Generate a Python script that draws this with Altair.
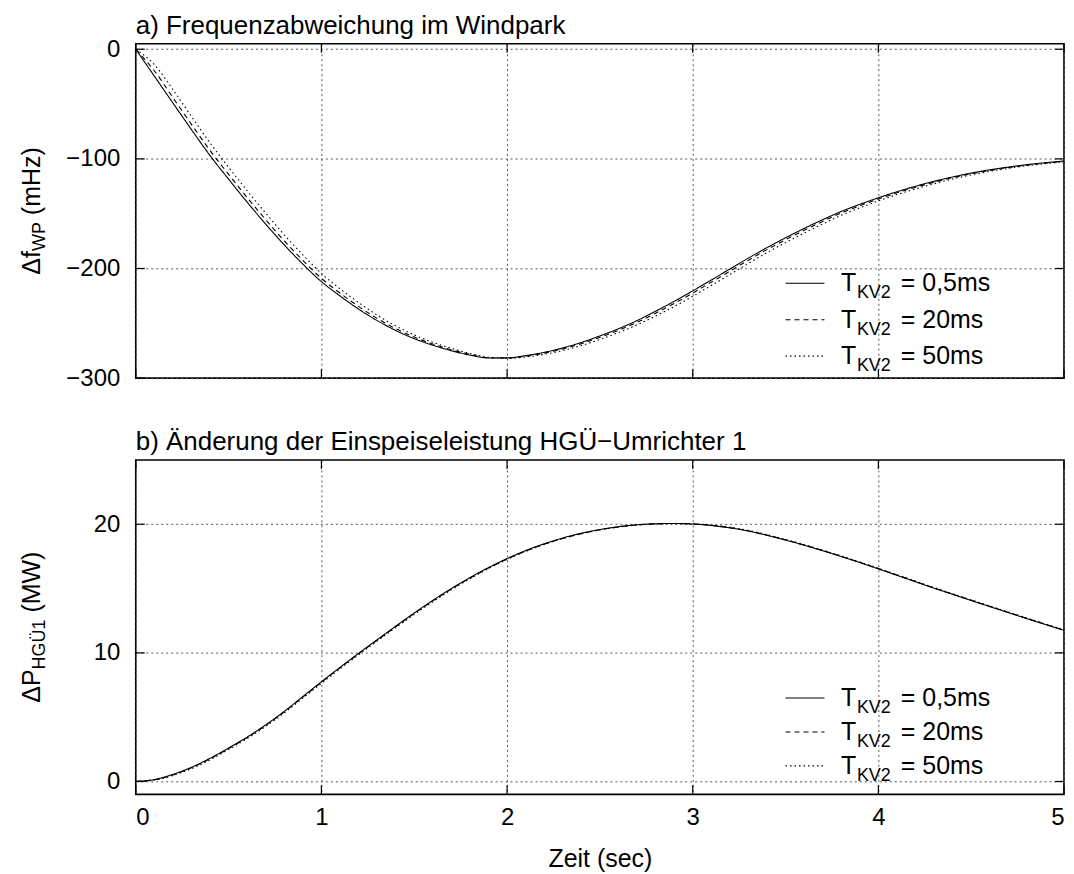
import altair as alt
import pandas as pd

# ---------------- data ----------------
t = [0.0, 0.1, 0.2, 0.3, 0.4, 0.5, 0.6, 0.7, 0.8, 0.9,
     1.0, 1.1, 1.2, 1.3, 1.4, 1.5, 1.6, 1.7, 1.8, 1.9,
     2.0, 2.1, 2.2, 2.3, 2.4, 2.5, 2.6, 2.7, 2.8, 2.9,
     3.0, 3.1, 3.2, 3.3, 3.4, 3.5, 3.6, 3.7, 3.8, 3.9,
     4.0, 4.1, 4.2, 4.3, 4.4, 4.5, 4.6, 4.7, 4.8, 4.9, 5.0]

series = ["0,5ms", "20ms", "50ms"]

f_05 = [0, -24.5, -49, -73.3, -97, -118.5, -139.5, -159.5, -178.5, -196,
        -212, -225, -237, -247.5, -256.5, -264, -270, -275, -279, -281.6,
        -281.5, -279.5, -276.5, -272.5, -267.5, -261.5, -255, -247.5, -239, -230,
        -220.5, -210.5, -200.5, -190.5, -181, -172, -163.5, -155.5, -148, -141.5,
        -135.5, -130, -125, -120.5, -116.5, -113, -110, -107.5, -105.3, -103.5, -102]
f_20 = [0, -19.6, -44.1, -68.5, -92.4, -114.1, -135.3, -155.5, -174.8, -192.6,
        -209, -222.4, -234.6, -245.5, -254.9, -262.6, -268.9, -274.1, -278.4, -281.4,
        -281.7, -280, -277.2, -273.4, -268.6, -262.8, -256.4, -249.1, -240.8, -231.9,
        -222.5, -212.5, -202.5, -192.4, -182.8, -173.8, -165.2, -157.1, -149.4, -142.8,
        -136.7, -131, -125.9, -121.3, -117.2, -113.6, -110.6, -108, -105.7, -103.9, -102.3]
f_50 = [0, -14, -36.8, -61.3, -85.4, -107.6, -129, -149.5, -169.3, -187.5,
        -204.5, -218.5, -231, -242.5, -252.4, -260.6, -267.3, -272.8, -277.5, -281,
        -282, -280.8, -278.3, -274.8, -270.3, -264.7, -258.5, -251.5, -243.4, -234.8,
        -225.4, -215.5, -205.5, -195.4, -185.6, -176.4, -167.7, -159.4, -151.5, -144.7,
        -138.4, -132.6, -127.4, -122.6, -118.4, -114.6, -111.4, -108.7, -106.3, -104.4, -102.8]

p_05 = [0, 0.15, 0.55, 1.1, 1.8, 2.6, 3.45, 4.4, 5.45, 6.6,
        7.75, 8.87, 9.96, 11.02, 12.07, 13.1, 14.08, 15.0, 15.85, 16.63,
        17.33, 17.95, 18.48, 18.93, 19.3, 19.59, 19.81, 19.96, 20.04, 20.06,
        20.02, 19.9, 19.72, 19.47, 19.14, 18.77, 18.37, 17.94, 17.49, 17.02,
        16.53, 16.03, 15.53, 15.03, 14.55, 14.07, 13.6, 13.13, 12.66, 12.2, 11.75]
p_20 = [0, 0.14, 0.51, 1.06, 1.76, 2.56, 3.41, 4.36, 5.41, 6.56,
        7.71, 8.83, 9.92, 10.98, 12.03, 13.06, 14.04, 14.96, 15.81, 16.59,
        17.29, 17.91, 18.45, 18.9, 19.27, 19.57, 19.79, 19.95, 20.03, 20.06,
        20.03, 19.92, 19.74, 19.49, 19.16, 18.79, 18.39, 17.96, 17.51, 17.04,
        16.55, 16.05, 15.55, 15.05, 14.57, 14.09, 13.62, 13.15, 12.68, 12.22, 11.77]
p_50 = [0, 0.1, 0.46, 0.99, 1.68, 2.48, 3.33, 4.28, 5.33, 6.48,
        7.63, 8.75, 9.85, 10.91, 11.96, 12.99, 13.97, 14.9, 15.76, 16.55,
        17.26, 17.89, 18.43, 18.89, 19.26, 19.56, 19.78, 19.94, 20.02, 20.05,
        20.04, 19.94, 19.77, 19.52, 19.19, 18.82, 18.42, 17.99, 17.54, 17.07,
        16.58, 16.08, 15.58, 15.08, 14.6, 14.12, 13.65, 13.18, 12.71, 12.25, 11.8]

x_ticks = [0, 1, 2, 3, 4, 5]
f_ticks = [-300, -200, -100, 0]
p_ticks = [0, 10, 20]

title_a = "a) Frequenzabweichung im Windpark"
title_b = "b) Änderung der Einspeiseleistung HGÜ−Umrichter 1"
x_title = "Zeit (sec)"
ytitle_a = ["Δf", "WP", "(mHz)"]
ytitle_b = ["ΔP", "HGÜ1", "(MW)"]
leg_main = ["T", "T", "T"]
leg_sub = ["KV2", "KV2", "KV2"]
leg_rest = ["= 0,5ms", "= 20ms", "= 50ms"]

# ---------------- styling ----------------
FONT = "Liberation Sans"
W, H = 930, 335
FS = 24
DASHES = [[1, 0], [5, 4], [1.5, 3]]

ARIAL = {"Δ": 668, "f": 278, "W": 944, "P": 667, " ": 278, "(": 333, ")": 333,
         "m": 833, "H": 722, "z": 500, "G": 778, "Ü": 722, "1": 556, "M": 833}


def tw(s, size):
    return sum(ARIAL.get(c, 556) for c in s) * size / 1000.0


def long_df(vals):
    rows = []
    for name, v in zip(series, vals):
        for ti, vi in zip(t, v):
            rows.append({"t": ti, "v": vi, "s": name})
    return pd.DataFrame(rows)


def one(text):
    return pd.DataFrame({"label": [text]})


def panel(vals, ydom, yticks, title, ytitle, show_x, leg_base, leg_step):
    df = long_df(vals)
    xaxis_kw = dict(values=x_ticks, grid=True, ticks=False, domain=False,
                    labels=show_x, labelPadding=11, labelFontSize=FS,
                    labelFont=FONT, labelColor="black",
                    gridColor="#555", gridDash=[2, 3], gridWidth=1)
    if show_x:
        xaxis_kw.update(title=x_title, titleFontSize=FS + 1, titleFont=FONT,
                        titleFontWeight="normal", titleColor="black", titlePadding=17)
    else:
        xaxis_kw.update(title=None)
    X = alt.X("t:Q", scale=alt.Scale(domain=[0, 5], nice=False, zero=False),
              axis=alt.Axis(**xaxis_kw))
    Y = alt.Y("v:Q", scale=alt.Scale(domain=ydom, nice=False, zero=False),
              axis=alt.Axis(values=yticks, grid=True, ticks=False, domain=False,
                            labelPadding=16, labelFontSize=FS, labelFont=FONT,
                            labelColor="black", format="d", title=None,
                            gridColor="#555", gridDash=[2, 3], gridWidth=1))

    lines = alt.Chart(df).mark_line(color="black", strokeWidth=1.1, clip=True,
                                    interpolate="monotone").encode(
        x=X, y=Y,
        strokeDash=alt.StrokeDash("s:N", scale=alt.Scale(domain=series, range=DASHES),
                                  legend=None),
        detail="s:N")

    layers = [lines]
    # inward ticks
    xt = pd.DataFrame({"t": x_ticks})
    yt = pd.DataFrame({"v": yticks})
    layers.append(alt.Chart(xt).mark_rule(color="black", strokeWidth=1.2).encode(
        x=X, y=alt.value(H), y2=alt.value(H - 9)))
    layers.append(alt.Chart(xt).mark_rule(color="black", strokeWidth=1.2).encode(
        x=X, y=alt.value(0), y2=alt.value(9)))
    layers.append(alt.Chart(yt).mark_rule(color="black", strokeWidth=1.2).encode(
        y=Y, x=alt.value(0), x2=alt.value(9)))
    layers.append(alt.Chart(yt).mark_rule(color="black", strokeWidth=1.2).encode(
        y=Y, x=alt.value(W - 9), x2=alt.value(W)))

    # panel title as text
    layers.append(alt.Chart(one(title)).mark_text(
        align="left", baseline="alphabetic", font=FONT, fontSize=26, color="black").encode(
        text="label:N", x=alt.value(0), y=alt.value(-10)))

    # legend
    for i in range(3):
        base = leg_base + i * leg_step
        layers.append(alt.Chart(one(series[i])).mark_rule(
            color="black", strokeWidth=1.1, strokeDash=DASHES[i]).encode(
            x=alt.value(651), x2=alt.value(690), y=alt.value(base - 8)))
        layers.append(alt.Chart(one(leg_main[i])).mark_text(
            align="left", baseline="alphabetic", font=FONT, fontSize=25, color="black").encode(
            text="label:N", x=alt.value(706.5), y=alt.value(base)))
        layers.append(alt.Chart(one(leg_sub[i])).mark_text(
            align="left", baseline="alphabetic", font=FONT, fontSize=18, color="black").encode(
            text="label:N", x=alt.value(722.5), y=alt.value(base + 7)))
        layers.append(alt.Chart(one(leg_rest[i])).mark_text(
            align="left", baseline="alphabetic", font=FONT, fontSize=25, color="black").encode(
            text="label:N", x=alt.value(766.5), y=alt.value(base)))

    # rotated y title with subscript
    big, sub = 25, 18
    gap = tw(" ", big)
    total = tw(ytitle[0], big) + tw(ytitle[1], sub) + gap + tw(ytitle[2], big)
    pos = H / 2 + total / 2
    bx = -96
    for part, size, dx, pre in [(ytitle[0], big, 0, 0), (ytitle[1], sub, 5, 0),
                                (ytitle[2], big, 0, gap)]:
        pos -= pre
        layers.append(alt.Chart(one(part)).mark_text(
            align="left", baseline="alphabetic", angle=270, font=FONT,
            fontSize=size, color="black").encode(
            text="label:N", x=alt.value(bx + dx), y=alt.value(pos)))
        pos -= tw(part, size)

    return alt.layer(*layers).properties(width=W, height=H)


top = panel([f_05, f_20, f_50], [-300, 5], f_ticks, title_a, ytitle_a, False, 248, 36.5)
bottom = panel([p_05, p_20, p_50], [-1, 25], p_ticks, title_b, ytitle_b, True, 246.5, 34)

chart = alt.vconcat(top, bottom, spacing=37).properties(
    padding={"left": 11, "top": 3, "right": 0, "bottom": 0},
    background="white"
).configure_view(stroke="black", strokeWidth=1.6)

chart.save("out.html", embed_options={"renderer": "svg", "actions": False})
